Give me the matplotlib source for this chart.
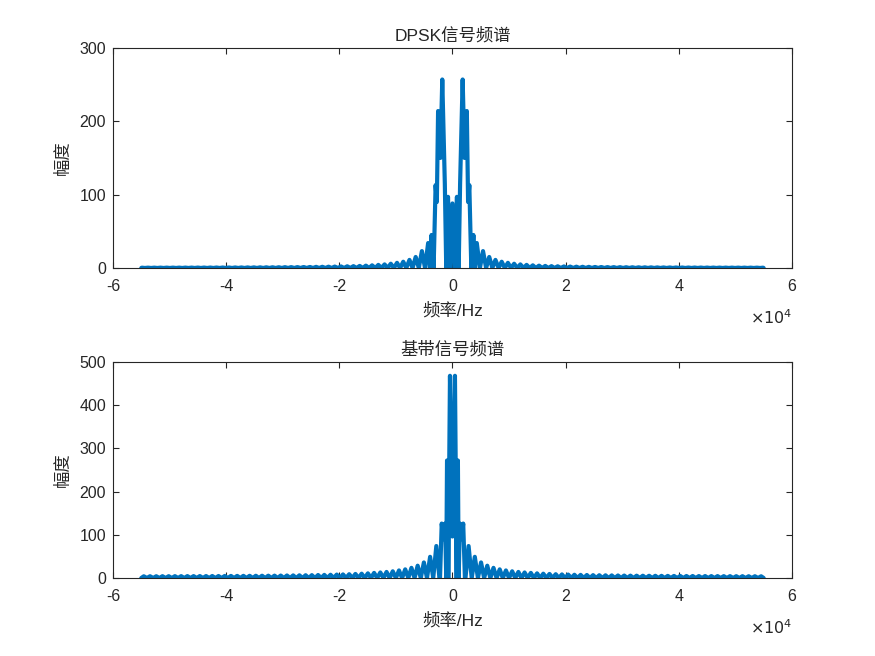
import matplotlib
matplotlib.use('Agg')

import numpy as np
import matplotlib.pyplot as plt
from matplotlib.ticker import FuncFormatter

plt.rcParams['font.family'] = ['Liberation Sans', 'Noto Sans CJK SC', 'DejaVu Sans']

# ---- data (positive-frequency half, Hz / amplitude) ----
# DPSK spectrum: irregular centre vertices, then regular side lobes
dpsk_core_f = [0, 400, 790, 1100, 1350, 1800, 2140, 2540, 2760, 2980, 3330, 3700, 3980, 4300]
dpsk_core_a = [88, 0, 97, 0, 115, 257, 150, 214, 90, 113, 0, 45, 0, 34]
dpsk_tail_f0 = 5400
dpsk_tail_a = [23, 15, 11, 8.5, 7, 5.8, 4.9, 4.2, 3.6, 3.2,
               2.8, 2.5, 2.3, 2.1, 1.9, 1.75, 1.6, 1.5, 1.4, 1.3,
               1.2, 1.15, 1.1, 1.0, 0.95, 0.9, 0.85, 0.8, 0.75, 0.7,
               0.68, 0.65, 0.62, 0.6, 0.57, 0.55, 0.53, 0.51, 0.49, 0.47,
               0.46, 0.45, 0.44, 0.43, 0.42, 0.41]

# baseband spectrum
base_core_f = [0, 440, 740, 820, 960, 1100, 1300, 1600, 1900, 2200]
base_core_a = [96, 468, 0, 272, 272, 0, 126, 90, 126, 0]
base_tail_f0 = 2850
base_tail_a = [74, 49, 36, 28.5, 23.5, 20, 17.5, 15.5, 14, 12.8,
               11.8, 10.8, 10.0, 9.4, 8.8, 8.3, 7.9, 7.5, 7.2, 6.9,
               6.6, 6.4, 6.2, 6.0, 5.8, 5.7, 5.5, 5.4, 5.3, 5.2,
               5.1, 5.0, 4.9, 4.8, 4.7, 4.6, 4.6, 4.5, 4.5, 4.4,
               4.4, 4.3, 4.3, 4.2, 4.2, 4.1, 4.1, 4.0, 4.0]

lobe_step = 1100
f_end = 55000

blue = '#0072BD'
axcol = '#262626'


def full_spectrum(core_f, core_a, tail_f0, tail_a):
	f = list(core_f)
	a = list(core_a)
	for k, pa in enumerate(tail_a):
		pf = tail_f0 + k * lobe_step
		if pf > f_end:
			break
		f += [pf - lobe_step / 2, pf]
		a += [0, pa]
	f.append(f_end)
	a.append(0)
	f = np.array(f, dtype=float)
	a = np.array(a, dtype=float)
	return np.concatenate([-f[::-1], f[1:]]), np.concatenate([a[::-1], a[1:]])


def style_axes(ax, ymax, title):
	ax.set_xlim(-6e4, 6e4)
	ax.set_ylim(0, ymax)
	ax.set_xticks(np.arange(-6e4, 6.1e4, 2e4))
	ax.set_yticks(np.arange(0, ymax + 1, 100))
	ax.xaxis.set_major_formatter(FuncFormatter(lambda v, p: '%d' % round(v / 1e4)))
	ax.tick_params(direction='in', top=True, right=True, length=4, width=0.8,
	               colors=axcol, labelsize=11.5)
	ax.tick_params(axis='x', pad=8)
	ax.tick_params(axis='y', pad=5)
	for s in ax.spines.values():
		s.set_color(axcol)
		s.set_linewidth(0.8)
	ax.set_title(title, fontsize=12.5, color=axcol, pad=5)
	ax.set_xlabel('频率/Hz', fontsize=12.5, color=axcol, labelpad=6)
	ax.set_ylabel('幅度', fontsize=12.5, color=axcol, labelpad=6)
	ax.text(1.0, -0.228, r'$\times 10^{4}$', transform=ax.transAxes, ha='right', va='center',
	        fontsize=11.5, color=axcol, family='DejaVu Sans')


fig = plt.figure(figsize=(8.75, 6.56), dpi=100)
ax1 = fig.add_axes([0.1291, 0.5915, 0.776, 0.3354])
ax2 = fig.add_axes([0.1291, 0.1189, 0.776, 0.3293])

x1, y1 = full_spectrum(dpsk_core_f, dpsk_core_a, dpsk_tail_f0, dpsk_tail_a)
x2, y2 = full_spectrum(base_core_f, base_core_a, base_tail_f0, base_tail_a)

ax1.plot(x1, y1, color=blue, linewidth=3, solid_joinstyle='round', solid_capstyle='round')
ax2.plot(x2, y2, color=blue, linewidth=3, solid_joinstyle='round', solid_capstyle='round')

style_axes(ax1, 300, 'DPSK信号频谱')
style_axes(ax2, 500, '基带信号频谱')

plt.savefig('out.png', dpi=100)
